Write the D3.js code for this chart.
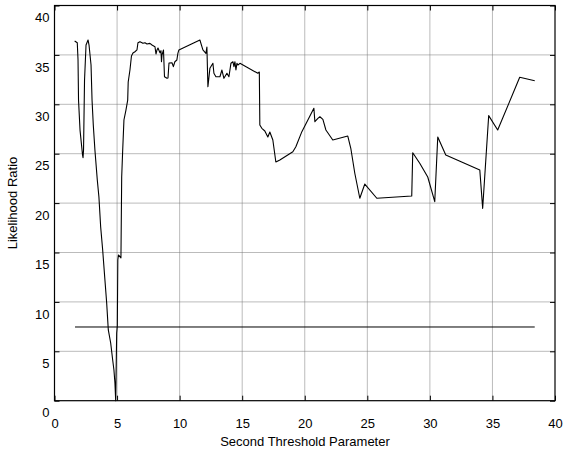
<!DOCTYPE html>
<html>
<head>
<title>Likelihood Ratio</title>
<script src="https://d3js.org/d3.v7.min.js"></script>
<style>
  body { margin: 0; background: #fff; }
  text { font-family: "Liberation Sans", Arial, Helvetica, sans-serif; fill: #000; }
</style>
</head>
<body>
<script>
// threshold parameter (x) and likelihood ratio (y)
var paramX = [1.61, 1.82, 1.88, 1.92, 2.04, 2.16, 2.24, 2.28, 2.32, 2.40, 2.52, 2.68, 2.76, 2.92, 3.00,
  3.10, 3.23, 3.42, 3.55, 3.69, 3.85, 4.03, 4.17, 4.30, 4.49, 4.65, 4.75, 4.83, 4.89, 4.97, 5.02, 5.06,
  5.11, 5.31, 5.37, 5.45, 5.55, 5.71, 5.85, 5.89, 6.03, 6.15, 6.27, 6.43, 6.59, 6.67, 6.83, 7.07, 7.23,
  7.39, 7.63, 7.79, 8.03, 8.11, 8.19, 8.27, 8.43, 8.51, 8.55, 8.59, 8.71, 8.79, 8.99, 9.07, 9.15, 9.39,
  9.50, 9.62, 9.78, 9.86, 9.94, 11.62, 11.86, 12.10, 12.18, 12.26, 12.42, 12.66, 12.74, 12.90, 13.22,
  13.38, 13.54, 13.78, 13.94, 14.10, 14.26, 14.34, 14.42, 14.50, 14.58, 14.66, 14.82, 16.25, 16.37,
  16.41, 16.57, 16.81, 17.05, 17.21, 17.45, 17.69, 18.01, 19.05, 19.29, 19.77, 20.25, 20.73, 20.81,
  21.05, 21.21, 21.45, 21.69, 22.24, 23.44, 23.68, 24.00, 24.40, 24.80, 25.76, 28.55, 28.63, 29.19,
  29.83, 30.39, 30.63, 31.27, 33.99, 34.22, 34.70, 35.42, 37.18, 38.38];
var ratio = [36.41, 36.23, 34.48, 30.43, 27.39, 25.88, 24.87, 24.6, 25.38, 32.46, 36.0, 36.51, 36.0, 33.98, 30.43,
  27.9, 25.38, 22.34, 20.62, 17.58, 15.25, 12.22, 9.89, 7.16, 5.84, 4.12, 3.11, 1.79, 0, 6.85, 7.56, 14.24,
  14.75, 14.45, 22.64, 25.38, 28.41, 29.42, 30.43, 32.26, 33.47, 34.89, 35.19, 35.32, 35.5, 36.23, 36.34, 36.17, 36.23,
  36.1, 36.17, 36.0, 35.83, 35.09, 35.5, 35.7, 35.22, 35.43, 34.31, 34.99, 35.5, 32.79, 32.63, 32.66, 34.18, 34.21,
  33.81, 34.31, 34.48, 35.16, 35.5, 36.51, 35.5, 35.16, 35.8, 31.78, 33.64, 34.15, 33.14, 32.79, 32.79,
  33.47, 32.63, 33.14, 32.79, 34.15, 34.31, 33.81, 34.31, 33.47, 34.15, 33.98, 34.15, 33.14, 33.27,
  27.9, 27.57, 27.3, 26.69, 27.2, 26.39, 24.16, 24.36, 25.2, 25.71, 27.23, 28.41, 29.6, 28.24,
  28.58, 28.74, 28.48, 27.4, 26.39, 26.79, 25.55, 23.02, 20.49, 21.93, 20.49, 20.72, 25.1, 24.03,
  22.64, 20.14, 26.69, 24.87, 23.35, 19.47, 28.85, 27.4, 32.73, 32.39];

// flat reference level
var refX = [1.64, 38.38];
var refY = [7.46, 7.46];

var xTicks = [0, 5, 10, 15, 20, 25, 30, 35, 40];
var yTicks = [0, 5, 10, 15, 20, 25, 30, 35, 40];

var margin = {top: 5.5, right: 12, bottom: 59.3, left: 54.5},
    width = 567 - margin.left - margin.right,
    height = 460 - margin.top - margin.bottom;

var x = d3.scaleLinear().domain([0, 40]).range([0, width]);
var y = d3.scaleLinear().domain([0, 40]).range([height, 0]);

var svg = d3.select("body").append("svg")
    .attr("width", 567)
    .attr("height", 460)
  .append("g")
    .attr("transform", "translate(" + margin.left + "," + margin.top + ")");

// dotted grid
svg.append("g").selectAll("line")
  .data(xTicks.slice(1, -1))
  .enter().append("line")
    .attr("x1", function(d) { return x(d); })
    .attr("x2", function(d) { return x(d); })
    .attr("y1", 0).attr("y2", height)
    .attr("stroke", "#777").attr("stroke-dasharray", "1,1");

svg.append("g").selectAll("line")
  .data(yTicks.slice(1, -1))
  .enter().append("line")
    .attr("y1", function(d) { return y(d); })
    .attr("y2", function(d) { return y(d); })
    .attr("x1", 0).attr("x2", width)
    .attr("stroke", "#777").attr("stroke-dasharray", "1,1");

// axes (ticks pointing inward, labels like the original)
var xAxis = svg.append("g")
    .attr("transform", "translate(0," + height + ")")
    .call(d3.axisBottom(x).tickValues(xTicks).tickSize(-5).tickPadding(18));
var xAxisTop = svg.append("g")
    .call(d3.axisTop(x).tickValues(xTicks).tickSize(-5).tickFormat(""));
var yAxis = svg.append("g")
    .call(d3.axisLeft(y).tickValues(yTicks).tickSize(-5).tickPadding(5));
var yAxisRight = svg.append("g")
    .attr("transform", "translate(" + width + ",0)")
    .call(d3.axisRight(y).tickValues(yTicks).tickSize(-5).tickFormat(""));

svg.selectAll(".domain").remove();
svg.selectAll(".tick line").attr("stroke", "#000");
svg.selectAll(".tick text")
  .attr("font-size", 13)
  .style("font-family", "'Liberation Sans', Arial, sans-serif");
yAxis.selectAll(".tick text").attr("dy", "1.25em");

// box
svg.append("rect")
  .attr("width", width).attr("height", height)
  .attr("fill", "none").attr("stroke", "#000").attr("stroke-width", 1.2);

// curves
var line = d3.line()
  .x(function(d) { return x(d[0]); })
  .y(function(d) { return y(d[1]); });

svg.append("path")
  .datum(d3.zip(refX, refY))
  .attr("d", line)
  .attr("fill", "none").attr("stroke", "#000").attr("stroke-width", 1);

svg.append("path")
  .datum(d3.zip(paramX, ratio))
  .attr("d", line)
  .attr("fill", "none").attr("stroke", "#000").attr("stroke-width", 1.1)
  .attr("stroke-linejoin", "round");

// titles
svg.append("text")
  .attr("x", 305 - margin.left).attr("y", 446 - margin.top)
  .attr("text-anchor", "middle").attr("font-size", 13)
  .text("Second Threshold Parameter");

svg.append("text")
  .attr("transform", "translate(" + (17 - margin.left) + "," + (203 - margin.top) + ") rotate(-90)")
  .attr("text-anchor", "middle").attr("font-size", 13)
  .text("Likelihood Ratio");
</script>
</body>
</html>
